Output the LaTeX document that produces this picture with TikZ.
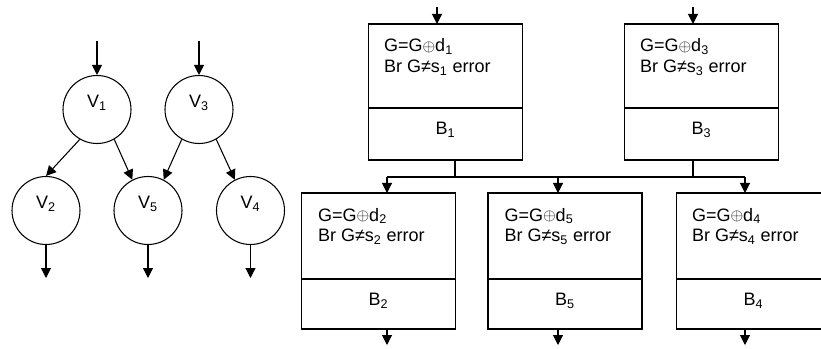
\documentclass[tikz,border=0pt]{standalone}
\usepackage{fontspec}
\setmainfont{Liberation Sans}
\usetikzlibrary{arrows.meta,calc}
\newcommand{\cplus}{\raisebox{0.3pt}{\scalebox{0.85}{$\oplus$}}}
\begin{document}
\begin{tikzpicture}[x=0.75pt,y=-0.75pt,
  line width=0.8pt,
  font=\fontsize{13.5}{15.75}\selectfont,
  arr/.style={-{Triangle[width=7.5pt,length=7.5pt]}},
  vnode/.style={circle,draw,minimum size=51pt,inner sep=0pt},
  blk/.style={draw,rectangle,minimum width=115.5pt,minimum height=102pt,inner sep=0pt,outer sep=0pt},
  txt/.style={anchor=base west,inner sep=0pt},
  lbl/.style={anchor=base,inner sep=0pt}]
\clip (0,0) rectangle (821,349);
% ---------- left graph ----------
\node[vnode] (v1) at (97,109.5) {};
\node[vnode] (v3) at (199,109.5) {};
\node[vnode] (v2) at (46,210.5) {};
\node[vnode] (v5) at (148,210.5) {};
\node[vnode] (v4) at (250.5,210.5) {};
\node[lbl] (l1) at ([shift={(0,-1.5)}]v1.center) {V\textsubscript{1}};
\node[lbl] (l3) at ([shift={(0,-1.5)}]v3.center) {V\textsubscript{3}};
\node[lbl] (l2) at ([shift={(0,-1.5)}]v2.center) {V\textsubscript{2}};
\node[lbl] (l5) at ([shift={(0,-1.5)}]v5.center) {V\textsubscript{5}};
\node[lbl] (l4) at ([shift={(0,-1.5)}]v4.center) {V\textsubscript{4}};
\coordinate (i1) at (97,41);
\coordinate (i3) at (199,41);
\coordinate (o2) at (46,278);
\coordinate (o5) at (148,278);
\coordinate (o4) at (250.5,278);
\draw[arr] (i1) -- (v1.north);
\draw[arr] (i3) -- (v3.north);
\draw[arr] (v1.-120) -- (v2.north);
\draw[arr] (v1.-60) -- (v5.117);
\draw[arr] (v3.-120) -- (v5.63);
\draw[arr] (v3.-60) -- (v4.117);
\draw[arr] (v2.south) -- (o2);
\draw[arr] (v5.south) -- (o5);
\draw[arr] (v4.south) -- (o4);
% ---------- right blocks ----------
\node[blk] (b1) at (445.5,92) {};
\node[blk] (b3) at (701.5,92) {};
\node[blk] (b2) at (378.5,261) {};
\node[blk] (b5) at (565,261) {};
\node[blk] (b4) at (753.5,261) {};
\foreach \b in {b1,b3}{\draw (\b.south west) ++(0,-52) -- ++(154,0);}
\foreach \b in {b2,b5,b4}{\draw (\b.south west) ++(0,-50) -- ++(154,0);}
% texts
\node[txt] (t1a) at ([shift={(15,28)}]b1.north west) {G=G\cplus d\textsubscript{1}};
\node[txt] (t1b) at ([shift={(15,49)}]b1.north west) {Br G≠s\textsubscript{1} error};
\node[txt] (t3a) at ([shift={(15,28)}]b3.north west) {G=G\cplus d\textsubscript{3}};
\node[txt] (t3b) at ([shift={(15,49)}]b3.north west) {Br G≠s\textsubscript{3} error};
\node[txt] (t2a) at ([shift={(16,28)}]b2.north west) {G=G\cplus d\textsubscript{2}};
\node[txt] (t2b) at ([shift={(16,49)}]b2.north west) {Br G≠s\textsubscript{2} error};
\node[txt] (t5a) at ([shift={(16,28)}]b5.north west) {G=G\cplus d\textsubscript{5}};
\node[txt] (t5b) at ([shift={(16,49)}]b5.north west) {Br G≠s\textsubscript{5} error};
\node[txt] (t4a) at ([shift={(15,28)}]b4.north west) {G=G\cplus d\textsubscript{4}};
\node[txt] (t4b) at ([shift={(15,49)}]b4.north west) {Br G≠s\textsubscript{4} error};
\node[lbl] (n1) at ([shift={(0,-25)}]b1.south) {B\textsubscript{1}};
\node[lbl] (n3) at ([shift={(0,-25)}]b3.south) {B\textsubscript{3}};
\node[lbl] (n2) at ([shift={(0,-23.5)}]b2.south) {B\textsubscript{2}};
\node[lbl] (n5) at ([shift={(0,-23.5)}]b5.south) {B\textsubscript{5}};
\node[lbl] (n4) at ([shift={(0,-23.5)}]b4.south) {B\textsubscript{4}};
% connectors
\coordinate (bi1) at (437,7);
\coordinate (bi3) at (693,7);
\coordinate (j1) at (455,177);
\coordinate (j3) at (693,177);
\coordinate (hl) at (387,177);
\coordinate (h5) at (558,177);
\coordinate (hr) at (745,177);
\coordinate (bo2) at (387,345);
\coordinate (bo5) at (558,345);
\coordinate (bo4) at (745,345);
\draw[arr] (bi1) -- (bi1 |- b1.north);
\draw[arr] (bi3) -- (bi3 |- b3.north);
\draw (b1.south -| j1) -- (j1);
\draw (b3.south -| j3) -- (j3);
\draw (hl) -- (hr);
\draw[arr] (hl) -- (hl |- b2.north);
\draw[arr] (h5) -- (h5 |- b5.north);
\draw[arr] (hr) -- (hr |- b4.north);
\draw[arr] (b2.south -| bo2) -- (bo2);
\draw[arr] (b5.south -| bo5) -- (bo5);
\draw[arr] (b4.south -| bo4) -- (bo4);
\end{tikzpicture}
\end{document}
